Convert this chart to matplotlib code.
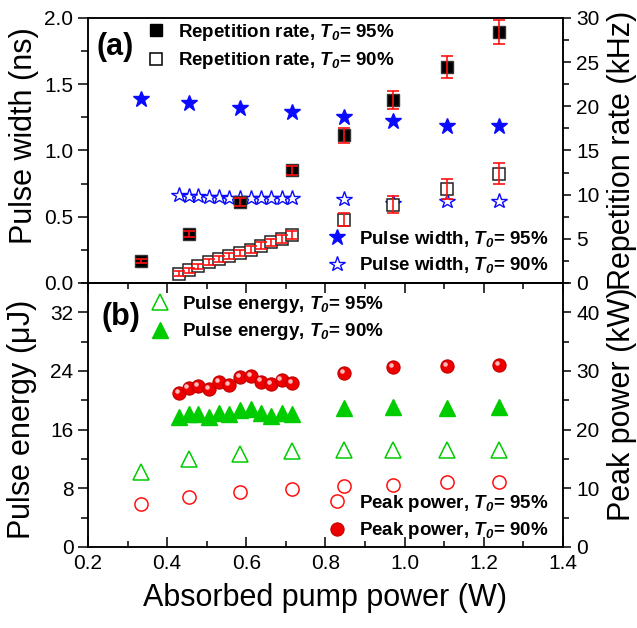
import matplotlib
matplotlib.use("Agg")
import matplotlib.pyplot as plt
from matplotlib.lines import Line2D
from matplotlib.transforms import ScaledTranslation
from matplotlib.ticker import MultipleLocator

plt.rcParams['font.family'] = ['Liberation Sans', 'DejaVu Sans']
plt.rcParams['mathtext.fontset'] = 'custom'
plt.rcParams['mathtext.rm'] = 'Liberation Sans'
plt.rcParams['mathtext.it'] = 'Liberation Sans:italic'
plt.rcParams['mathtext.bf'] = 'Liberation Sans:bold'
plt.rcParams['mathtext.bfit'] = 'Liberation Sans:italic:bold'

# ---------------- data ----------------
# T0 = 95% (sparse points)
p95 = [0.335, 0.456, 0.584, 0.716, 0.847, 0.971, 1.107, 1.239]
width95 = [1.389, 1.358, 1.321, 1.288, 1.253, 1.225, 1.187, 1.182]          # ns
rep95 = [2.53, 5.55, 9.17, 12.75, 16.7, 20.7, 24.45, 28.4]                   # kHz
rep95_err = [0.23, 0.38, 0.45, 0.5, 0.8, 1.06, 1.2, 1.38]
energy95 = [10.24, 11.93, 12.74, 13.1, 13.2, 13.2, 13.29, 13.29]             # uJ
peak95 = [7.28, 8.53, 9.39, 9.96, 10.35, 10.64, 11.1, 11.1]                  # kW

# T0 = 90% (dense then sparse)
p90 = [0.429, 0.454, 0.479, 0.506, 0.532, 0.557, 0.584, 0.611, 0.637, 0.663,
       0.689, 0.716, 0.847, 0.971, 1.107, 1.239]
width90 = [0.665, 0.660, 0.655, 0.650, 0.650, 0.645, 0.640, 0.640, 0.640, 0.640,
           0.640, 0.640, 0.636, 0.604, 0.616, 0.616]
rep90 = [1.06, 1.43, 1.89, 2.38, 2.72, 3.09, 3.40, 3.77, 4.23, 4.60, 4.98, 5.47,
         7.17, 8.87, 10.64, 12.38]
rep90_err = [0.25, 0.3, 0.3, 0.35, 0.35, 0.35, 0.38, 0.38, 0.4, 0.4, 0.42, 0.45,
             0.75, 0.94, 1.1, 1.2]
energy90 = [17.66, 18.07, 18.07, 17.75, 18.30, 18.07, 18.66, 18.80, 18.21, 17.84,
            18.21, 18.12, 18.89, 19.03, 18.98, 19.12]
peak90 = [26.3, 27.14, 27.4, 26.85, 28.16, 27.6, 29.0, 29.2, 28.2, 27.7, 28.4,
          28.0, 29.6, 30.6, 30.8, 31.0]

xticks = [0.2, 0.4, 0.6, 0.8, 1.0, 1.2, 1.4]

# ---------------- figure ----------------
fig = plt.figure(figsize=(6.37, 6.28), dpi=100)
ax1 = fig.add_axes([0.1381, 0.5494, 0.7457, 0.4220])
ax2 = fig.add_axes([0.1381, 0.1290, 0.7457, 0.4204])
ax1r = ax1.twinx()
ax2r = ax2.twinx()

BLUE = '#0a0aff'
GREEN = '#00cc00'
RED = '#ff1010'
TICK_FS = 15
LAB_FS = 22
LEG_FS = 13.5

for a in (ax1, ax2, ax1r, ax2r):
    for s in a.spines.values():
        s.set_linewidth(1.1)

# ---- panel (a) ----
ax1.plot(p95, width95, ls='none', marker='*', ms=12, color=BLUE, mec=BLUE, zorder=3)
ax1.plot(p90, width90, ls='none', marker='*', ms=11.5, mfc='none', mec=BLUE, mew=1.0, zorder=3)

ax1r.plot(p95, rep95, ls='none', marker='s', ms=8.2, color='black', mec='#333333', zorder=2)
ax1r.errorbar(p95, rep95, yerr=rep95_err, fmt='none', ecolor=RED, elinewidth=1.2,
              capsize=4, capthick=1.2, zorder=3)
ax1r.plot(p90, rep90, ls='none', marker='s', ms=8.2, mfc='white', mec='#222222', mew=1.1, zorder=2)
ax1r.errorbar(p90, rep90, yerr=rep90_err, fmt='none', ecolor=RED, elinewidth=1.2,
              capsize=4, capthick=1.2, zorder=3)

ax1.set_xlim(0.2, 1.4)
ax1.set_ylim(0, 2.0)
ax1r.set_ylim(0, 30)
ax1.yaxis.set_major_locator(MultipleLocator(0.5))
ax1.yaxis.set_minor_locator(MultipleLocator(0.25))
ax1r.yaxis.set_major_locator(MultipleLocator(5))
ax1r.yaxis.set_minor_locator(MultipleLocator(2.5))
ax1.xaxis.set_major_locator(MultipleLocator(0.2))
ax1.tick_params(axis='x', which='both', bottom=False, top=False, labelbottom=False)
ax1.yaxis.set_major_formatter(matplotlib.ticker.FormatStrFormatter('%.1f'))
ax1.tick_params(axis='y', which='major', direction='out', length=7, width=1.1, labelsize=TICK_FS)
ax1.tick_params(axis='y', which='minor', direction='out', length=5, width=1.1)
ax1r.tick_params(axis='y', which='major', direction='out', length=6, width=1.1, labelsize=TICK_FS)
ax1r.tick_params(axis='y', which='minor', direction='out', length=4.5, width=1.1)
ax1.set_ylabel('Pulse width (ns)', fontsize=LAB_FS)
ax1.yaxis.set_label_coords(-0.103, 0.555)
ax1r.set_ylabel('Repetition rate (kHz)', fontsize=LAB_FS)
ax1r.yaxis.set_label_coords(1.092, 0.50)

ax1.text(0.017, 0.89, '(a)', transform=ax1.transAxes, fontsize=22, fontweight='bold',
         va='center', ha='left')

T95 = r'$\mathbfit{T}_{\mathbfit{0}}$= 95%'
T90 = r'$\mathbfit{T}_{\mathbfit{0}}$= 90%'
legprop = dict(size=LEG_FS, weight='bold')

h_rep = [Line2D([], [], ls='none', marker='s', ms=8.2, color='black'),
         Line2D([], [], ls='none', marker='s', ms=8.2, mfc='white', mec='black', mew=1.1)]
leg = ax1r.legend(h_rep, ['Repetition rate, ' + T95, 'Repetition rate, ' + T90],
                  loc='upper left', bbox_to_anchor=(0.122, 0.985), frameon=False,
                  prop=legprop, handlelength=1.05, handletextpad=0.65, labelspacing=0.4,
                  borderpad=0, borderaxespad=0)
ax1r.add_artist(leg)
h_w = [Line2D([], [], ls='none', marker='*', ms=12, color=BLUE),
       Line2D([], [], ls='none', marker='*', ms=11.5, mfc='none', mec=BLUE, mew=1.0)]
ax1r.legend(h_w, ['Pulse width, ' + T95, 'Pulse width, ' + T90],
            loc='upper left', bbox_to_anchor=(0.503, 0.205), frameon=False,
            prop=legprop, handlelength=1.05, handletextpad=0.65, labelspacing=0.35,
            borderpad=0, borderaxespad=0)

# ---- panel (b) ----
ax2.plot(p95, energy95, ls='none', marker='^', ms=11, mfc='none', mec=GREEN, mew=1.1, zorder=3)
ax2.plot(p90, energy90, ls='none', marker='^', ms=11, color=GREEN, zorder=3)

ax2r.plot(p95, peak95, ls='none', marker='o', ms=9.5, mfc='none', mec=RED, mew=1.1, zorder=3)
ax2r.plot(p90, peak90, ls='none', marker='o', ms=9.5, mfc='#ee0000', mec='#c00000', mew=0.8, zorder=3)
hl = ax2r.transData + ScaledTranslation(-1.5 / 72, 1.5 / 72, fig.dpi_scale_trans)
ax2r.plot(p90, peak90, ls='none', marker='o', ms=3.3, mfc='#ffd0d0', mec='none',
          alpha=0.9, transform=hl, zorder=4)

ax2.set_xlim(0.2, 1.4)
ax2.set_ylim(0, 36)
ax2r.set_ylim(0, 45)
ax2.set_xticks(xticks)
ax2.xaxis.set_major_formatter(matplotlib.ticker.FormatStrFormatter('%.1f'))
ax2.xaxis.set_minor_locator(MultipleLocator(0.1))
ax2.yaxis.set_major_locator(MultipleLocator(8))
ax2.yaxis.set_minor_locator(MultipleLocator(4))
ax2r.yaxis.set_major_locator(MultipleLocator(10))
ax2r.yaxis.set_minor_locator(MultipleLocator(5))
ax2.tick_params(axis='x', which='major', direction='in', length=7, width=1.1,
                top=True, labelsize=TICK_FS, pad=5)
ax2.tick_params(axis='x', which='minor', direction='in', length=4.5, width=1.1, top=True)
ax2.tick_params(axis='y', which='major', direction='out', length=7, width=1.1, labelsize=TICK_FS)
ax2.tick_params(axis='y', which='minor', direction='out', length=5, width=1.1)
ax2r.tick_params(axis='y', which='major', direction='out', length=6, width=1.1, labelsize=TICK_FS)
ax2r.tick_params(axis='y', which='minor', direction='out', length=4.5, width=1.1)
ax2.set_ylabel(r'Pulse energy ($\mathregular{\mu}$J)', fontsize=LAB_FS)
ax2.yaxis.set_label_coords(-0.103, 0.48)
ax2r.set_ylabel('Peak power (kW)', fontsize=LAB_FS)
ax2r.yaxis.set_label_coords(1.092, 0.54)
ax2.set_xlabel('Absorbed pump power (W)', fontsize=LAB_FS, labelpad=7)

ax2.text(0.029, 0.871, '(b)', transform=ax2.transAxes, fontsize=22, fontweight='bold',
         va='center', ha='left')

h_e = [Line2D([], [], ls='none', marker='^', ms=11, mfc='none', mec=GREEN, mew=1.1),
       Line2D([], [], ls='none', marker='^', ms=11, color=GREEN)]
leg2 = ax2r.legend(h_e, ['Pulse energy, ' + T95, 'Pulse energy, ' + T90],
                   loc='upper left', bbox_to_anchor=(0.131, 0.96), frameon=False,
                   prop=legprop, handlelength=1.05, handletextpad=0.65, labelspacing=0.35,
                   borderpad=0, borderaxespad=0)
ax2r.add_artist(leg2)
h_p = [Line2D([], [], ls='none', marker='o', ms=9.5, mfc='none', mec=RED, mew=1.1),
       Line2D([], [], ls='none', marker='o', ms=9.5, mfc='#ee0000', mec='#c00000', mew=0.8)]
ax2r.legend(h_p, ['Peak power, ' + T95, 'Peak power, ' + T90],
            loc='upper left', bbox_to_anchor=(0.503, 0.205), frameon=False,
            prop=legprop, handlelength=1.05, handletextpad=0.65, labelspacing=0.35,
            borderpad=0, borderaxespad=0)

fig.savefig('out.png', dpi=100)
